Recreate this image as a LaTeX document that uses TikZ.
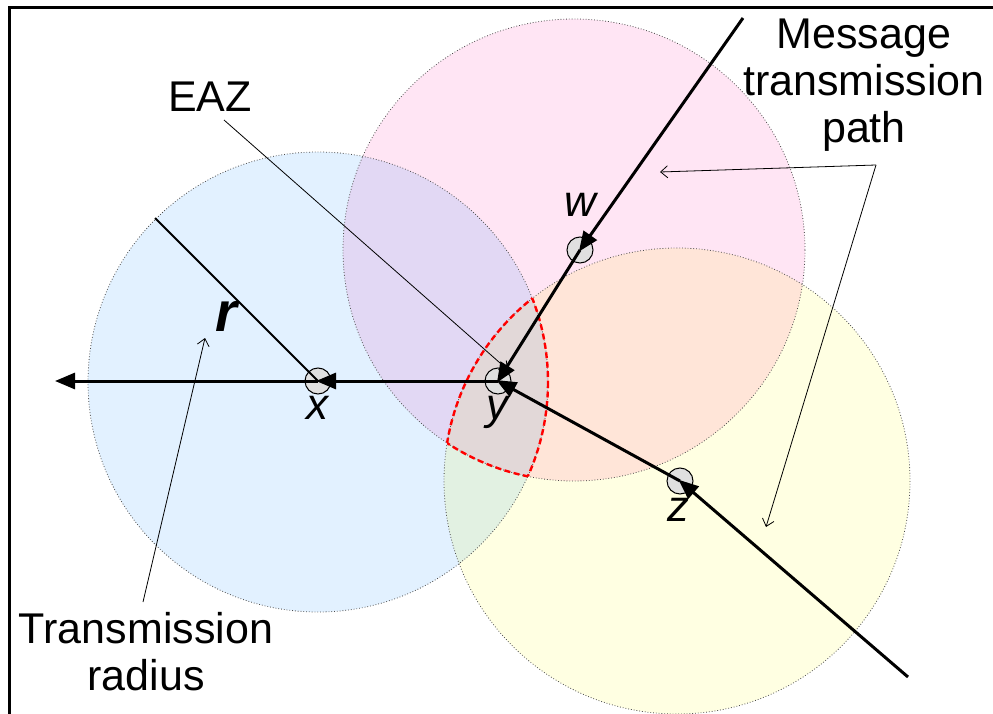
\documentclass[tikz,border=0pt]{standalone}
\usepackage{fontspec}
\setmainfont{Liberation Sans}
\usetikzlibrary{arrows.meta}
\begin{document}
\begin{tikzpicture}[x=1pt,y=-1pt,
  zone/.style={draw=black!70,dotted,line width=0.8pt},
  nodept/.style={circle,draw=black,line width=1pt,fill=black!12,minimum size=26pt,inner sep=0pt},
  path/.style={line width=3pt,-{Triangle[length=20pt,width=16pt]},shorten >=-2pt},
  pointer/.style={line width=0.8pt,-{Straight Barb[length=7pt,width=12pt]}},
  eazline/.style={red,line width=2.4pt,dash pattern=on 6pt off 3.5pt},
  lbl/.style={font=\fontsize{43}{47}\selectfont,align=center},
  ptlbl/.style={font=\fontsize{44}{46}\selectfont\itshape}]
\useasboundingbox (0,0) rectangle (993,714);
% frame
\draw[line width=3pt] (9,720) -- (9,8) -- (1000,8);
% zones
\begin{scope}[blend group=multiply]
\fill[fill={rgb,255:red,226;green,241;blue,255}] (318,382) circle (230);
\fill[fill={rgb,255:red,255;green,229;blue,244}] (574,250) circle (231);
\fill[fill={rgb,255:red,255;green,255;blue,226}] (677,481) circle (233);
\end{scope}
\draw[zone] (318,382) circle (230);
\draw[zone] (574,250) circle (231);
\draw[zone] (677,481) circle (233);
% EAZ boundary
\begin{scope}
\clip (318,382) circle (230);
\clip (574,250) circle (231);
\draw[eazline] (677,481) circle (233);
\end{scope}
\begin{scope}
\clip (318,382) circle (230);
\clip (677,481) circle (233);
\draw[eazline] (574,250) circle (231);
\end{scope}
\begin{scope}
\clip (574,250) circle (231);
\clip (677,481) circle (233);
\draw[eazline] (318,382) circle (230);
\end{scope}
% nodes
\node[nodept] (x) at (318,381) {};
\node[nodept] (y) at (498,381) {};
\node[nodept] (w) at (580,250) {};
\node[nodept] (z) at (680,481) {};
\node[ptlbl] (xl) at (317,408) {x};
\node[ptlbl] (yl) at (497,412) {y};
\node[ptlbl] (wl) at (580,205) {w};
\node[ptlbl] (zl) at (678,510) {z};
\coordinate (wstart) at (743,18);
\coordinate (zstart) at (908,677);
\coordinate (xend) at (55,381);
\coordinate (rend) at (155,218);
% radius
\draw[line width=1.8pt] (x.center) -- (rend);
\node[font=\fontsize{56}{56}\selectfont\bfseries\itshape] (r) at (226,316) {r};
% paths
\draw[path] (wstart) -- (w.center);
\draw[path] (w.center) -- (y.center);
\draw[path] (zstart) -- (z.center);
\draw[path] (z.center) -- (y.center);
\draw[path] (y.center) -- (x.center);
\draw[path,shorten >=0pt] (x.center) -- (xend);
% labels
\node[lbl] (eaz) at (210,97) {EAZ};
\node[lbl] (msg) at (864,85) {Message\\transmission\\path};
\node[lbl] (trad) at (146,652) {Transmission\\radius};
\coordinate (eazs) at (224,120);
\coordinate (eaze) at (508,370);
\coordinate (msgs) at (876,165);
\coordinate (msge1) at (660,172);
\coordinate (msge2) at (766,527);
\coordinate (trs) at (143,602);
\coordinate (tre) at (205,338);
\draw[pointer] (eazs) -- (eaze);
\draw[pointer] (msgs) -- (msge1);
\draw[pointer] (msgs) -- (msge2);
\draw[pointer] (trs) -- (tre);
\end{tikzpicture}
\end{document}
